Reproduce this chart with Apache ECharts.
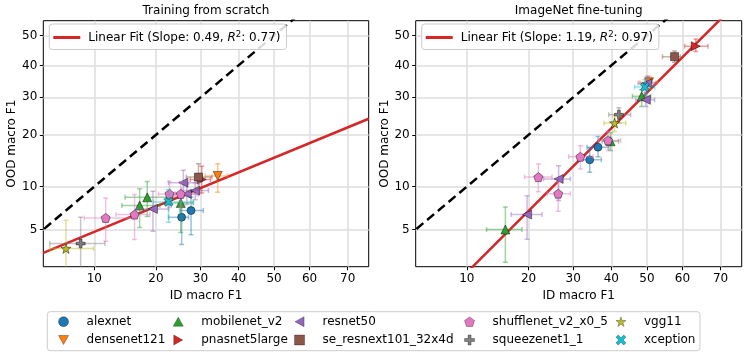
<!DOCTYPE html>
<html>
<head>
<meta charset="utf-8">
<script src="https://cdn.jsdelivr.net/npm/echarts@6/dist/echarts.min.js"></script>
<style>
  html, body { margin: 0; padding: 0; background: #fff; }
  #chart { width: 748px; height: 358px; }
</style>
</head>
<body>
<div id="chart"></div>
<script>
const models = ['alexnet', 'densenet121', 'mobilenet_v2', 'pnasnet5large', 'resnet50',
  'se_resnext101_32x4d', 'shufflenet_v2_x0_5', 'squeezenet1_1', 'vgg11', 'xception']
const modelColors = ['#1f77b4', '#ff7f0e', '#2ca02c', '#d62728', '#9467bd',
  '#8c564b', '#e377c2', '#7f7f7f', '#bcbd22', '#17becf']
const xTicks = [10, 20, 30, 40, 50, 60, 70]
const yTicks = [5, 10, 20, 30, 40, 50]
const xRange = [5, 75]
const yRange = [2.5, 55]
const panelTitles = ['Training from scratch', 'ImageNet fine-tuning']

// training from scratch: model index, ID F1, OOD F1 and error bar ends
const scratchModel = [8, 7, 6, 6, 2, 2, 4, 9, 6, 6, 2, 0, 0, 4, 4, 4, 5, 3, 1]
const scratchId = [6.9, 8.4, 11.5, 16.0, 16.9, 18.3, 19.4, 22.6, 22.8, 25.3, 25.3, 25.5, 27.7, 26.7, 28.7, 25.9, 29.5, 30.3, 34.4]
const scratchOod = [3.55, 3.89, 6.1, 6.45, 7.47, 8.5, 7.08, 7.92, 8.97, 8.97, 7.79, 6.17, 6.89, 8.97, 9.43, 10.6, 11.5, 11.1, 11.7]
const scratchIdLo = [5.5, 5.5, 8.8, 13.0, 13.9, 14.4, 16.4, 19.5, 20.5, 24.0, 22.5, 22.6, 25.1, 24.0, 25.5, 22.6, 26.6, 27.5, 31.2]
const scratchIdHi = [9.9, 11.4, 15.9, 18.8, 20.8, 23.6, 22.6, 28.3, 26.3, 29.1, 28.2, 27.1, 30.7, 29.5, 32.0, 29.7, 32.9, 32.5, 37.0]
const scratchOodLo = [1.8, 1.8, 4.06, 4.18, 5.17, 6.24, 4.85, 5.67, 7.23, 7.23, 4.74, 3.82, 4.57, 7.6, 8.2, 8.64, 9.57, 9.1, 9.2]
const scratchOodHi = [5.86, 6.17, 8.43, 8.87, 9.7, 10.8, 9.33, 9.57, 10.8, 10.8, 8.64, 7.59, 8.5, 10.4, 10.6, 12.65, 13.86, 13.37, 13.86]

// imagenet fine-tuning
const tunedModel = [2, 4, 6, 4, 6, 6, 0, 0, 2, 6, 8, 7, 2, 4, 9, 4, 1, 5, 3]
const tunedId = [15.7, 19.7, 22.0, 26.5, 26.4, 31.8, 34.2, 36.4, 39.8, 39.1, 40.9, 42.1, 48.5, 49.7, 49.4, 50.1, 50.6, 57.8, 63.6]
const tunedOod = [5.0, 6.45, 11.5, 11.2, 9.0, 15.2, 14.6, 17.2, 18.5, 18.7, 22.9, 25.1, 30.3, 29.3, 33.1, 34.3, 34.6, 42.9, 46.4]
const tunedIdLo = [12.7, 16.7, 19.2, 23.1, 23.9, 28.9, 31.4, 33.5, 37.5, 36.6, 38.0, 39.3, 45.9, 46.8, 46.5, 47.5, 48.0, 54.4, 60.6]
const tunedIdHi = [18.7, 22.8, 25.0, 29.3, 29.3, 35.1, 37.3, 39.3, 42.0, 42.6, 44.0, 45.4, 51.1, 52.2, 52.2, 52.5, 53.0, 59.4, 66.8]
const tunedOodLo = [2.73, 4.2, 9.25, 8.1, 6.8, 12.9, 12.3, 15.2, 16.5, 16.5, 20.8, 22.9, 27.4, 27.4, 30.8, 32.0, 32.5, 41.0, 44.6]
const tunedOodHi = [7.3, 8.7, 13.8, 13.5, 10.8, 17.5, 17.0, 19.6, 20.5, 20.8, 24.6, 27.0, 32.3, 31.3, 35.4, 36.5, 36.5, 44.8, 48.8]

// linear fits, done on the probit scale
const fitSlope = [0.49, 1.19]
const fitIntercept = [-1.036, -0.485]
const fitR2 = [0.77, 0.97]

const FONT = 'DejaVu Sans'
const symbols = [
  'circle',
  'path://M0,0L10,0L5,9Z',
  'path://M5,0L10,9L0,9Z',
  'path://M0,0L9,5L0,10Z',
  'path://M0,5L9,0L9,10Z',
  'rect',
  'path://M50,0L97.6,34.5L79.4,90.5L20.6,90.5L2.4,34.5Z',
  'path://M35,0H65V35H100V65H65V100H35V65H0V35H35Z',
  'path://M50,0L61.2,34.5L97.6,34.5L68.2,55.9L79.4,90.5L50,69.1L20.6,90.5L31.8,55.9L2.4,34.5L38.8,34.5Z',
  'path://M0,22L22,0L50,28L78,0L100,22L72,50L100,78L78,100L50,72L22,100L0,78L28,50Z'
]
const symbolSizes = [8, 9, 9, 9, 9, 8, 9, 9, 10, 9]

// probit (inverse normal cdf), the scale used by both axes
function probit(p) {
  const a = [-3.969683028665376e1, 2.209460984245205e2, -2.759285104469687e2, 1.38357751867269e2, -3.066479806614716e1, 2.506628277459239]
  const b = [-5.447609879822406e1, 1.615858368580409e2, -1.556989798598866e2, 6.680131188771972e1, -1.328068155288572e1]
  const c = [-7.784894002430293e-3, -3.223964580411365e-1, -2.400758277161838, -2.549732539343734, 4.374664141464968, 2.938163982698783]
  const d = [7.784695709041462e-3, 3.224671290700398e-1, 2.445134137142996, 3.754408661907416]
  const pl = 0.02425
  let q, r
  if (p < pl) {
    q = Math.sqrt(-2 * Math.log(p))
    return (((((c[0] * q + c[1]) * q + c[2]) * q + c[3]) * q + c[4]) * q + c[5]) / ((((d[0] * q + d[1]) * q + d[2]) * q + d[3]) * q + 1)
  }
  if (p <= 1 - pl) {
    q = p - 0.5
    r = q * q
    return (((((a[0] * r + a[1]) * r + a[2]) * r + a[3]) * r + a[4]) * r + a[5]) * q / (((((b[0] * r + b[1]) * r + b[2]) * r + b[3]) * r + b[4]) * r + 1)
  }
  q = Math.sqrt(-2 * Math.log(1 - p))
  return -(((((c[0] * q + c[1]) * q + c[2]) * q + c[3]) * q + c[4]) * q + c[5]) / ((((d[0] * q + d[1]) * q + d[2]) * q + d[3]) * q + 1)
}
const f = v => probit(v / 100)

function tickLabel(ticks) {
  return v => {
    const t = ticks.find(t => Math.abs(f(t) - v) < 1e-6)
    return t === undefined ? '' : String(t)
  }
}

function hexAlpha(hex, a) {
  const n = parseInt(hex.slice(1), 16)
  return 'rgba(' + (n >> 16) + ',' + ((n >> 8) & 255) + ',' + (n & 255) + ',' + a + ')'
}

function renderErr(params, api) {
  const x = api.value(0)
  const y = api.value(1)
  const l = api.coord([api.value(2), y])
  const r = api.coord([api.value(3), y])
  const b = api.coord([x, api.value(4)])
  const t = api.coord([x, api.value(5)])
  const style = { stroke: hexAlpha(modelColors[api.value(6)], 0.45), lineWidth: 1.5 }
  const cap = 2.5
  const ln = (x1, y1, x2, y2) => ({ type: 'line', shape: { x1, y1, x2, y2 }, style })
  return {
    type: 'group',
    children: [
      ln(l[0], l[1], r[0], r[1]),
      ln(b[0], b[1], t[0], t[1]),
      ln(l[0], l[1] - cap, l[0], l[1] + cap),
      ln(r[0], r[1] - cap, r[0], r[1] + cap),
      ln(b[0] - cap, b[1], b[0] + cap, b[1]),
      ln(t[0] - cap, t[1], t[0] + cap, t[1])
    ]
  }
}

const panels = [
  [scratchModel, scratchId, scratchOod, scratchIdLo, scratchIdHi, scratchOodLo, scratchOodHi],
  [tunedModel, tunedId, tunedOod, tunedIdLo, tunedIdHi, tunedOodLo, tunedOodHi]
]
const gridLefts = [43.3, 415.7]
const gridWidths = [325.4, 326]

const grids = []
const xAxes = []
const yAxes = []
const titles = []
const series = []
const legends = []

panels.forEach((pd, p) => {
  grids.push({
    left: gridLefts[p], top: 20.7, width: gridWidths[p], height: 246,
    show: true, borderColor: '#000', borderWidth: 1, backgroundColor: 'transparent'
  })
  const axisCommon = {
    type: 'value',
    gridIndex: p,
    nameLocation: 'middle',
    nameTextStyle: { fontFamily: FONT, fontSize: 12, color: '#000' },
    axisLine: { show: false, onZero: false },
    splitLine: { show: true, lineStyle: { color: '#dcdcdc', width: 1.5 } }
  }
  xAxes.push(Object.assign({}, axisCommon, {
    min: f(xRange[0]), max: f(xRange[1]),
    name: 'ID macro F1', nameGap: 19,
    axisTick: { show: true, length: 3.5, lineStyle: { color: '#000' }, customValues: xTicks.map(f) },
    axisLabel: { fontFamily: FONT, fontSize: 12, color: '#000', margin: 6, customValues: xTicks.map(f), formatter: tickLabel(xTicks) }
  }))
  yAxes.push(Object.assign({}, axisCommon, {
    min: f(yRange[0]), max: f(yRange[1]),
    name: 'OOD macro F1', nameGap: 25,
    axisTick: { show: true, length: 3.5, lineStyle: { color: '#000' }, customValues: yTicks.map(f) },
    axisLabel: { fontFamily: FONT, fontSize: 12, color: '#000', margin: 6, customValues: yTicks.map(f), formatter: tickLabel(yTicks) }
  }))
  titles.push({
    text: panelTitles[p], left: gridLefts[p] + gridWidths[p] / 2, top: 5, textAlign: 'center', padding: 0,
    textStyle: { fontFamily: FONT, fontSize: 12, fontWeight: 'normal', color: '#000' }
  })

  // identity line
  series.push({
    type: 'line', xAxisIndex: p, yAxisIndex: p, z: 3, silent: true, showSymbol: false,
    data: [[f(1), f(1)], [f(99), f(99)]],
    lineStyle: { color: '#000', width: 2.5, type: [9, 5] }
  })
  // fit line
  const fx = [f(xRange[0]), f(xRange[1])]
  const fitName = 'fit' + p
  series.push({
    type: 'line', name: fitName, xAxisIndex: p, yAxisIndex: p, z: 4, silent: true, showSymbol: false,
    color: '#d62728',
    data: fx.map(x => [x, fitSlope[p] * x + fitIntercept[p]]),
    lineStyle: { color: '#d62728', width: 2.5 }
  })
  legends.push({
    left: gridLefts[p] + 6, top: 24, padding: [6, 6, 6, 4],
    backgroundColor: 'rgba(255,255,255,0.85)', borderColor: '#cccccc', borderWidth: 1, borderRadius: 3,
    itemWidth: 27, itemHeight: 3, selectedMode: false,
    data: [{ name: fitName, icon: 'rect' }],
    formatter: () => 'Linear Fit (Slope: ' + fitSlope[p].toFixed(2) + ', {it|R}{sup|2}: ' + fitR2[p].toFixed(2) + ')',
    textStyle: {
      fontFamily: FONT, fontSize: 12, color: '#000', padding: [0, 0, 0, 3],
      rich: {
        it: { fontFamily: FONT, fontSize: 12, fontStyle: 'italic', color: '#000' },
        sup: { fontFamily: FONT, fontSize: 8.5, color: '#000', padding: [0, 0, 6, 0] }
      }
    }
  })

  const [mIdx, id, ood, idLo, idHi, oodLo, oodHi] = pd
  models.forEach((name, m) => {
    const errData = []
    const ptData = []
    mIdx.forEach((mm, i) => {
      if (mm !== m) return
      errData.push([f(id[i]), f(ood[i]), f(idLo[i]), f(idHi[i]), f(oodLo[i]), f(oodHi[i]), m])
      ptData.push([f(id[i]), f(ood[i])])
    })
    series.push({
      type: 'custom', xAxisIndex: p, yAxisIndex: p, z: 10 + 2 * m, clip: true, silent: true,
      renderItem: renderErr, encode: { x: 0, y: 1 }, data: errData
    })
    series.push({
      type: 'scatter', name: name, xAxisIndex: p, yAxisIndex: p, z: 11 + 2 * m, silent: true,
      symbol: symbols[m], symbolSize: symbolSizes[m],
      itemStyle: { color: modelColors[m], borderColor: 'rgba(0,0,0,0.75)', borderWidth: 0.6, opacity: 1 },
      data: ptData
    })
  })
})

// bottom legend: five columns of two
const colCenters = [63.3, 178, 299.3, 469.3, 620.7]
colCenters.forEach((cx, k) => {
  legends.push({
    orient: 'vertical', left: cx - 5, top: 314.7, padding: 0,
    itemWidth: 10, itemHeight: 10, itemGap: 4.3, selectedMode: false,
    itemStyle: { borderWidth: 0.5, borderColor: 'rgba(0,0,0,0.6)' },
    data: [models[2 * k], models[2 * k + 1]],
    textStyle: { fontFamily: FONT, fontSize: 12, color: '#000', lineHeight: 14, padding: [0, 0, 0, 13] }
  })
})

const chart = echarts.init(document.getElementById('chart'), null, { renderer: 'canvas' })
chart.setOption({
  animation: false,
  backgroundColor: '#fff',
  textStyle: { fontFamily: FONT },
  title: titles,
  grid: grids,
  xAxis: xAxes,
  yAxis: yAxes,
  legend: legends,
  graphic: [{
    type: 'rect', shape: { x: 47.3, y: 311.7, width: 652.7, height: 39, r: 3 },
    style: { fill: 'none', stroke: '#cccccc', lineWidth: 1 }, silent: true
  }],
  series: series
})
</script>
</body>
</html>
